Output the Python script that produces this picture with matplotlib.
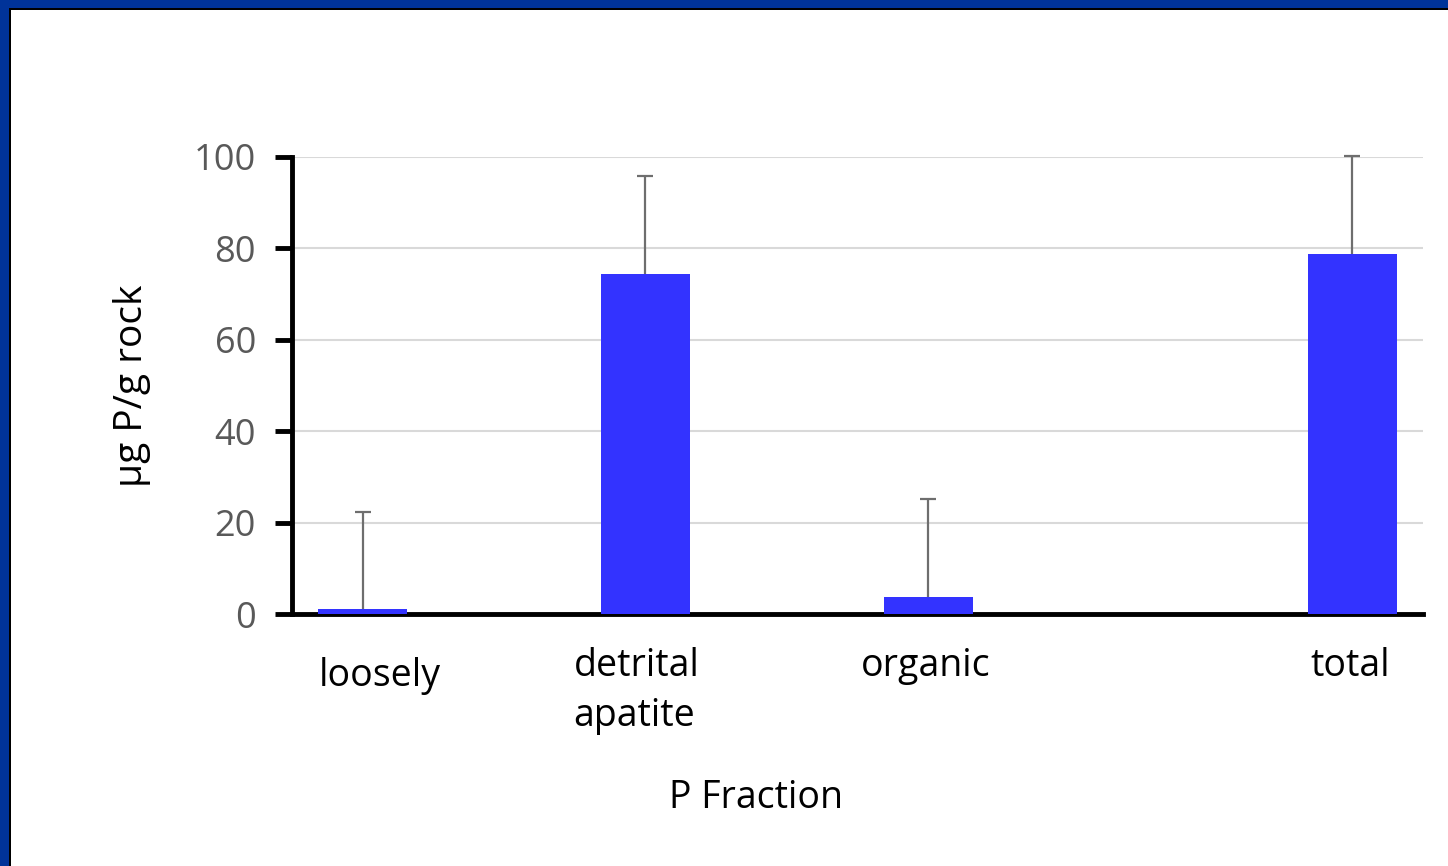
import matplotlib
matplotlib.use("Agg")
import matplotlib.pyplot as plt
from matplotlib.patches import Rectangle
from matplotlib.transforms import ScaledTranslation

# P fractions, mean content and upper error
categories = ["loosely", "detrital\napatite", "organic", "total"]
positions = [0, 1, 2, 3.5]
values = [1.1, 74.3, 3.7, 78.7]
errors = [21.3, 21.5, 21.5, 21.5]
yticks = [0, 20, 40, 60, 80, 100]

plt.rcParams["font.family"] = ["Open Sans", "DejaVu Sans"]

W, H = 1448, 866
fig = plt.figure(figsize=(W / 100, H / 100), dpi=100)
fig.patch.set_facecolor("white")

# slide-style frame on the top and left edges
blue = "#003399"
fig.add_artist(Rectangle((0, 1 - 8 / H), 1, 8 / H, transform=fig.transFigure,
                         facecolor=blue, edgecolor="none"))
fig.add_artist(Rectangle((0, 0), 9 / W, 1, transform=fig.transFigure,
                         facecolor=blue, edgecolor="none"))
fig.add_artist(Rectangle((9 / W, 0), 2 / W, 1 - 8 / H, transform=fig.transFigure,
                         facecolor="black", edgecolor="none"))
fig.add_artist(Rectangle((9 / W, 1 - 10 / H), 1, 2 / H, transform=fig.transFigure,
                         facecolor="black", edgecolor="none"))

ax = fig.add_axes([292 / W, 1 - 614 / H, (1423 - 292) / W, (614 - 157) / H])

ax.bar(positions, values, width=0.315, color="#3333FF", zorder=3)

# upper-only error bars: stem from bar top plus a cap at the end
tops = [v + e for v, e in zip(values, errors)]
ax.vlines(positions, values, tops, color="#6E6E6E", linewidth=1.6,
          zorder=4, clip_on=False)
ax.plot(positions, tops, linestyle="none", marker="_", markersize=12,
        markeredgewidth=1.6, color="#6E6E6E", zorder=4, clip_on=False)

ax.set_xlim(-0.25, 3.75)
ax.set_ylim(0, 100)
ax.set_yticks(yticks)
ax.set_yticklabels([str(t) for t in yticks])
ax.grid(axis="y", color="#D9D9D9", linewidth=1.5, zorder=0)
ax.set_axisbelow(True)

for s in ["top", "right"]:
    ax.spines[s].set_visible(False)
for s in ["left", "bottom"]:
    ax.spines[s].set_linewidth(3.5)
    ax.spines[s].set_color("black")

ax.tick_params(axis="y", length=12, width=3.5, color="black",
               labelsize=26, labelcolor="#595959", pad=14)
ax.set_xticks(positions)
ax.set_xticklabels(categories, ha="left", va="top")
ax.tick_params(axis="x", length=0, labelsize=27, labelcolor="black", pad=24)

# horizontal placement of each category label
shifts = [-44, -72, -67, -42]
for lab, dx in zip(ax.get_xticklabels(), shifts):
    dy = -10 if lab.get_text() == "loosely" else 0
    lab.set_transform(lab.get_transform() +
                      ScaledTranslation(dx / 100, dy / 100, fig.dpi_scale_trans))
    lab.set_linespacing(1.4)

ax.set_ylabel("µg P/g rock", fontsize=28, color="black")
ax.yaxis.set_label_coords(-0.125, 0.5)
ax.set_xlabel("P Fraction", fontsize=27, color="black")
ax.xaxis.set_label_coords(0.41, -0.36)

fig.savefig("out.png", dpi=100)
